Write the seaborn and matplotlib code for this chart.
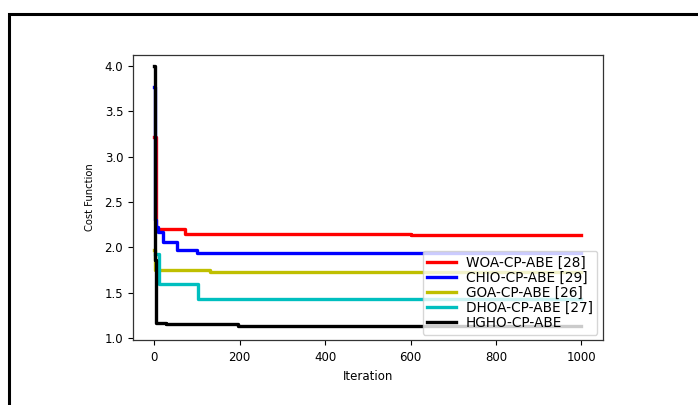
import numpy as np
import pandas as pd
import matplotlib
matplotlib.use("Agg")
import matplotlib.pyplot as plt
import seaborn as sns
from matplotlib.patches import Rectangle

# breakpoints of the convergence curves (iteration, cost), drawn as steps
names = ["WOA-CP-ABE [28]", "CHIO-CP-ABE [29]", "GOA-CP-ABE [26]",
         "DHOA-CP-ABE [27]", "HGHO-CP-ABE"]
colors = ["r", "b", "y", "c", "k"]

woa_it = [0, 3, 73, 600, 1000]
woa_val = [3.22, 2.20, 2.15, 2.13, 2.13]

chio_it = [0, 1, 4, 8, 21, 52, 99, 1000]
chio_val = [3.77, 2.30, 2.22, 2.17, 2.06, 1.97, 1.935, 1.935]

goa_it = [0, 2, 130, 1000]
goa_val = [1.97, 1.755, 1.73, 1.73]

dhoa_it = [2, 12, 102, 1000]
dhoa_val = [1.93, 1.595, 1.435, 1.435]

hgho_it = [0, 1, 5, 27, 195, 360, 1000]
hgho_val = [4.0, 1.86, 1.17, 1.155, 1.132, 1.128, 1.128]

its = [woa_it, chio_it, goa_it, dhoa_it, hgho_it]
vals = [woa_val, chio_val, goa_val, dhoa_val, hgho_val]

rows = []
for n, it, v in zip(names, its, vals):
    for a, b in zip(it, v):
        rows.append((n, a, b))
df = pd.DataFrame(rows, columns=["algo", "Iteration", "Cost Function"])

fig = plt.figure(figsize=(6.98, 4.05), dpi=100)
ax = fig.add_axes([0.1905, 0.1605, 0.673, 0.704])

sns.lineplot(data=df, x="Iteration", y="Cost Function", hue="algo",
             hue_order=names, palette=dict(zip(names, colors)),
             drawstyle="steps-post", linewidth=2.4, estimator=None,
             ax=ax)
ax.lines[-1].set_linewidth(2.8)

ax.set_xlim(-50, 1050)
ax.set_ylim(0.978, 4.121)
ax.tick_params(labelsize=8.5, length=3.5)
ax.tick_params(axis="x", pad=4.5)
ax.set_xlabel("Iteration", fontsize=8.5, labelpad=4)
ax.set_ylabel("Cost Function", fontsize=7.2, labelpad=7)
ax.set_yticks([1.0, 1.5, 2.0, 2.5, 3.0, 3.5, 4.0])
ax.set_xticks([0, 200, 400, 600, 800, 1000])
for s in ax.spines.values():
    s.set_color("#333333")
    s.set_linewidth(0.9)

leg = ax.legend(loc="lower right", fontsize=9.8, labelspacing=0.08,
                handlelength=2.1, handletextpad=0.7, borderpad=0.35,
                borderaxespad=0.4)
for h in leg.get_lines():
    h.set_linewidth(2.4)

# black frame of the surrounding figure box
fig.add_artist(Rectangle((8.5 / 698, -0.1), 1.1, 1.1 - 13.5 / 405,
                         transform=fig.transFigure, fill=False,
                         edgecolor="black", linewidth=2.2, clip_on=False))

fig.savefig("out.png", dpi=100)
